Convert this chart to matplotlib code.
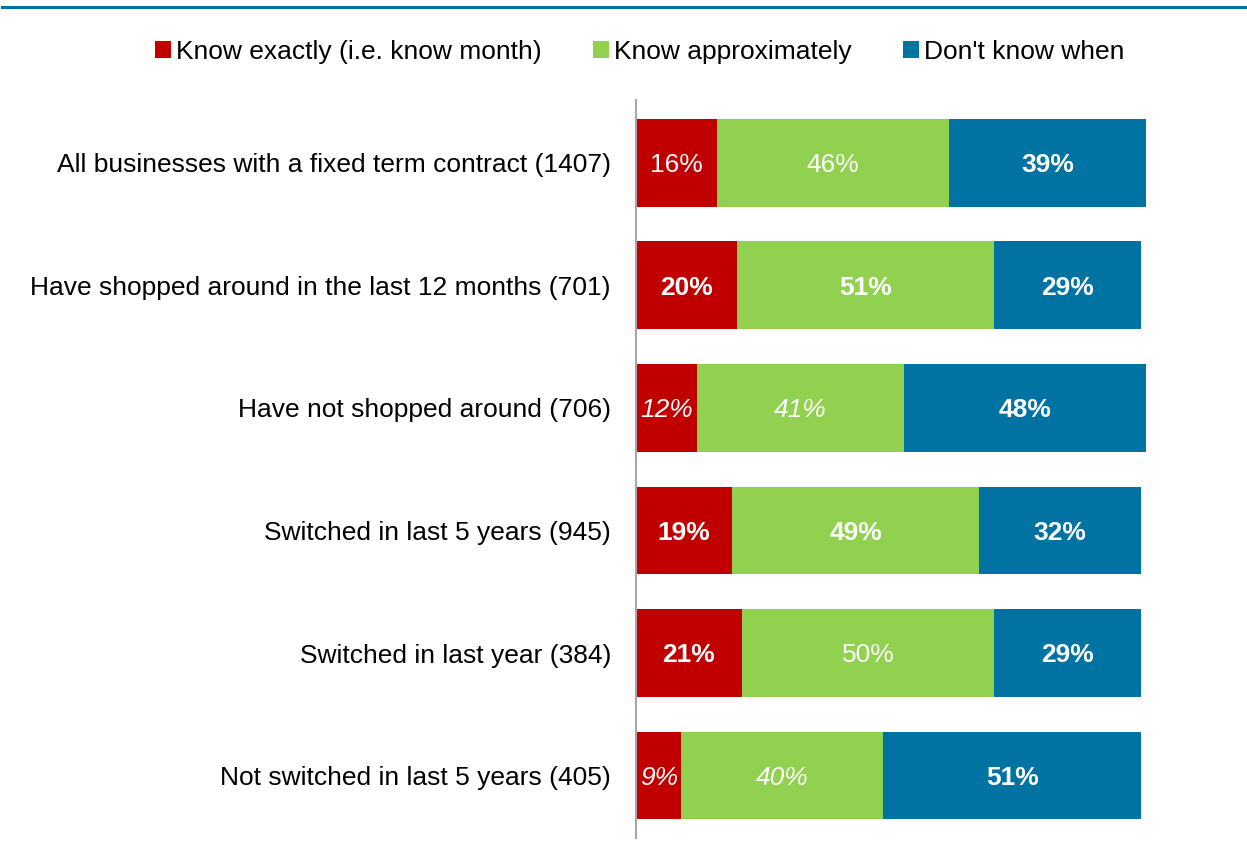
import matplotlib.pyplot as plt
from matplotlib.lines import Line2D
from matplotlib.patches import Patch

plt.rcParams['font.family'] = ['Liberation Sans', 'DejaVu Sans']

categories = [
    "All businesses with a fixed term contract (1407)",
    "Have shopped around in the last 12 months (701)",
    "Have not shopped around (706)",
    "Switched in last 5 years (945)",
    "Switched in last year (384)",
    "Not switched in last 5 years (405)",
]
series = ["Know exactly (i.e. know month)", "Know approximately", "Don't know when"]
know_exactly = [16, 20, 12, 19, 21, 9]
know_approx = [46, 51, 41, 49, 50, 40]
dont_know = [39, 29, 48, 32, 29, 51]
# label style per cell: n = normal, b = bold, i = italic
label_styles = [
    ["n", "n", "b"],
    ["b", "b", "b"],
    ["i", "i", "b"],
    ["b", "b", "b"],
    ["b", "n", "b"],
    ["i", "i", "b"],
]
colors = ["#C00000", "#92D050", "#0073A3"]

fig = plt.figure(figsize=(12.47, 8.64), dpi=100)
ax = fig.add_axes([0.51, 0.030, 0.411, 0.854])

values = [know_exactly, know_approx, dont_know]
ypos = list(range(len(categories)))
left = [0] * len(categories)
for s, (vals, col) in enumerate(zip(values, colors)):
    ax.barh(ypos, vals, left=left, height=0.715, color=col, linewidth=0)
    for i, v in enumerate(vals):
        st = label_styles[i][s]
        ax.text(left[i] + v / 2, i + 0.02, f"{v}%", ha="center", va="center",
                color="white", fontsize=19,
                fontweight="bold" if st == "b" else "normal",
                fontstyle="italic" if st == "i" else "normal")
    left = [l + v for l, v in zip(left, vals)]

ax.set_xlim(0, 101.5)
ax.set_ylim(len(categories) - 0.49, -0.51)
ax.set_yticks(ypos)
ax.set_yticklabels(categories, fontsize=19)
ax.tick_params(axis="y", length=0, pad=18)
ax.set_xticks([])
for side in ["top", "right", "bottom"]:
    ax.spines[side].set_visible(False)
ax.spines["left"].set_color("#A6A6A6")
ax.spines["left"].set_linewidth(1.5)

handles = [Patch(facecolor=c, edgecolor="none") for c in colors]
fig.legend(handles, series, loc="center", bbox_to_anchor=(0.513, 0.940), ncol=3,
           frameon=False, fontsize=19, handlelength=0.6, handleheight=0.6,
           handletextpad=0.2, columnspacing=1.95)

fig.add_artist(Line2D([0.002, 1.0], [0.9915, 0.9915], color="#0070A0", linewidth=2.2))

fig.savefig("out.png", dpi=100)
